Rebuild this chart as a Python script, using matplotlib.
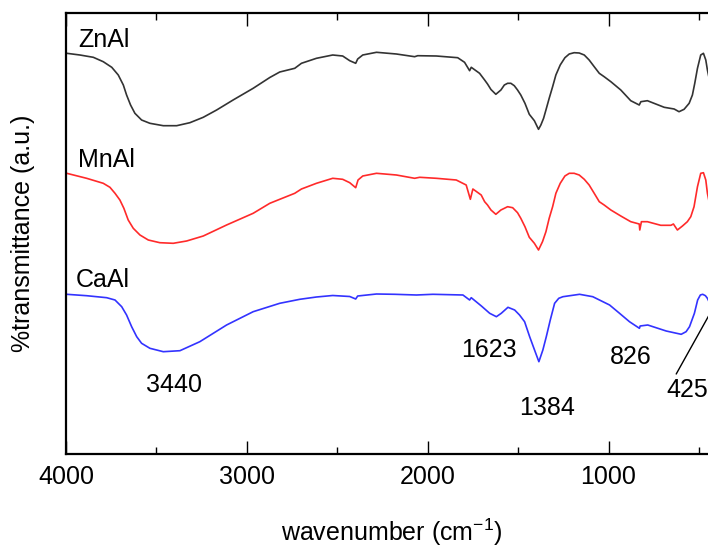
import numpy as np
import matplotlib
matplotlib.use('Agg')
import matplotlib.pyplot as plt

plt.rcParams['font.family'] = ['Liberation Sans', 'DejaVu Sans']
plt.rcParams['mathtext.default'] = 'regular'

# ZnAl (black)
zn_wn = [3996, 3923, 3849, 3794, 3747, 3711, 3683, 3665, 3643, 3619,
         3582, 3536, 3462, 3388, 3315, 3241, 3167, 3076, 2965, 2873,
         2818, 2735, 2698, 2615, 2525, 2470, 2431, 2398, 2387, 2359,
         2283, 2173, 2072, 2055, 1952, 1834, 1796, 1768, 1759, 1713,
         1685, 1669, 1650, 1623, 1595, 1576, 1558, 1540, 1521, 1503,
         1485, 1462, 1438, 1410, 1387, 1374, 1359, 1346, 1328, 1309,
         1291, 1267, 1241, 1217, 1190, 1162, 1134, 1107, 1079, 1051,
         1024, 987, 932, 877, 830, 821, 785, 692, 637, 610,
         582, 554, 536, 523, 508, 490, 475, 462, 453, 430,
         400]
zn_t = [400.7, 399, 396.7, 392.3, 386.7, 379, 369, 359, 349, 340.7,
        334, 330.7, 328.3, 328.3, 331.3, 336.7, 344, 354, 365.7, 376.5,
        382, 385.7, 390.7, 395.7, 399, 398, 393.3, 390.7, 395, 399,
        401.7, 400, 397.3, 398.3, 398, 396.3, 391.7, 383.3, 386.7, 380.7,
        374, 370, 364.5, 359.7, 364, 369, 370.7, 370.7, 368.3, 364,
        359, 350.7, 339.7, 333.3, 324.7, 329, 335.7, 344, 355.7, 367.3,
        379, 389, 396.3, 400, 401.3, 401, 399, 394, 387.3, 380.7,
        377.3, 372.3, 364, 353.3, 349, 352.3, 353.3, 346.7, 345, 342.3,
        344.7, 350.7, 359, 370.7, 385.7, 399, 400.7, 394, 384, 364,
        354]

# MnAl (red)
mn_wn = [3996, 3886, 3794, 3757, 3729, 3702, 3680, 3656, 3628, 3591,
         3545, 3481, 3407, 3333, 3241, 3112, 2965, 2873, 2818, 2735,
         2698, 2615, 2525, 2470, 2431, 2398, 2385, 2359, 2283, 2173,
         2072, 2044, 1952, 1842, 1787, 1764, 1750, 1704, 1685, 1669,
         1650, 1623, 1595, 1558, 1530, 1503, 1485, 1462, 1438, 1410,
         1387, 1365, 1346, 1328, 1309, 1291, 1267, 1241, 1217, 1190,
         1162, 1134, 1107, 1079, 1051, 1024, 987, 932, 877, 830,
         827, 818, 785, 711, 655, 641, 619, 591, 564, 545,
         527, 508, 490, 475, 462, 453, 430, 400]
mn_t = [280.7, 275.7, 270.7, 266.7, 260.7, 254, 245.7, 234, 225.7, 219,
        214, 211.3, 210.7, 213, 218, 229, 240.7, 250.7, 254.7, 260.7,
        265, 270.7, 275.7, 274.7, 271.3, 266.3, 274, 278, 280.7, 279,
        275.7, 276.7, 275.7, 274, 269, 254.7, 265, 259, 252.3, 249,
        244, 239.7, 244, 247.3, 246.3, 241.3, 235.7, 227.3, 216.7, 210.7,
        204, 212.3, 222.3, 235.7, 247.3, 260.7, 270.7, 278, 280.7, 280.7,
        279, 274.7, 269, 260.7, 252.3, 249, 244, 238, 232.3, 230,
        224, 232.3, 232.3, 228.7, 228.7, 230, 224, 228, 232.3, 237.3,
        247.3, 267.3, 280.7, 281.3, 274, 260.7, 240, 230]

# CaAl (blue)
ca_wn = [3996, 3886, 3775, 3729, 3692, 3665, 3637, 3609, 3582, 3536,
         3462, 3370, 3260, 3112, 2965, 2818, 2707, 2615, 2525, 2431,
         2398, 2387, 2283, 2182, 2062, 1971, 1805, 1768, 1759, 1703,
         1657, 1620, 1593, 1556, 1519, 1492, 1464, 1436, 1409, 1385,
         1363, 1344, 1322, 1298, 1275, 1252, 1160, 1087, 1031, 994,
         939, 884, 829, 825, 783, 681, 598, 571, 552, 525,
         507, 492, 479, 464, 453, 425, 400]
ca_t = [159.7, 158.3, 156.3, 154, 147.3, 139, 127.3, 117.3, 110.7, 105.7,
        102.3, 103.3, 112.3, 129, 142.3, 150.7, 154.7, 157, 158.5, 157.5,
        155, 158, 160, 159.7, 159, 159.7, 159, 154, 156.3, 148,
        140.7, 137.3, 140.7, 146.7, 144, 139, 132.3, 117.3, 104, 92.3,
        104, 117.3, 134, 150.7, 155.7, 157.3, 159.7, 157.3, 152.3, 149,
        140.7, 132.3, 125.7, 128, 129, 123, 119.7, 122.3, 127.3, 140.7,
        154, 159, 159.7, 158.3, 155.7, 145, 135]

names = ['ZnAl', 'MnAl', 'CaAl']
peaks = ['3440', '1623', '1384', '826', '425']

fig = plt.figure(figsize=(7.08, 5.49), dpi=100)
ax = fig.add_axes([66/708, 1 - 454/549, 651/708, 441/549])

ax.plot(zn_wn, zn_t, color='#333333', lw=1.2)
ax.plot(mn_wn, mn_t, color='#ff2a2a', lw=1.2)
ax.plot(ca_wn, ca_t, color='#3333ff', lw=1.2)

ax.set_xlim(4000, 400)
ax.set_ylim(0, 441)

fs = 18
ax.text(3934, 414, names[0], fontsize=fs, va='center')
ax.text(3934, 294, names[1], fontsize=fs, va='center')
ax.text(3945, 174, names[2], fontsize=fs, va='center')

ax.text(3403, 69, peaks[0], fontsize=fs, ha='center', va='center')
ax.text(1663, 104, peaks[1], fontsize=fs, ha='center', va='center')
ax.text(1340, 46, peaks[2], fontsize=fs, ha='center', va='center')
ax.text(878, 97, peaks[3], fontsize=fs, ha='center', va='center')
ax.annotate(peaks[4], xy=(425, 145), xytext=(564, 64), fontsize=fs,
            ha='center', va='center',
            arrowprops=dict(arrowstyle='-', color='black', lw=1,
                            shrinkA=1, shrinkB=0, relpos=(0.18, 1)))

ax.set_xticks([4000, 3000, 2000, 1000])
ax.set_xticks([3500, 2500, 1500, 500], minor=True)
ax.set_yticks([])
ax.tick_params(axis='x', which='both', direction='in', top=True, bottom=True,
               labelsize=fs, pad=8)
ax.tick_params(axis='x', which='major', length=9.5, width=1)
ax.tick_params(axis='x', which='minor', length=5, width=1)
for s in ax.spines.values():
    s.set_linewidth(1.6)

ax.set_xlabel('wavenumber (cm$^{-1}$)', fontsize=fs, labelpad=20)
ax.set_ylabel('%transmittance (a.u.)', fontsize=fs)
ax.yaxis.set_label_coords(-0.0476, 0.5)

fig.savefig('out.png', dpi=100)
